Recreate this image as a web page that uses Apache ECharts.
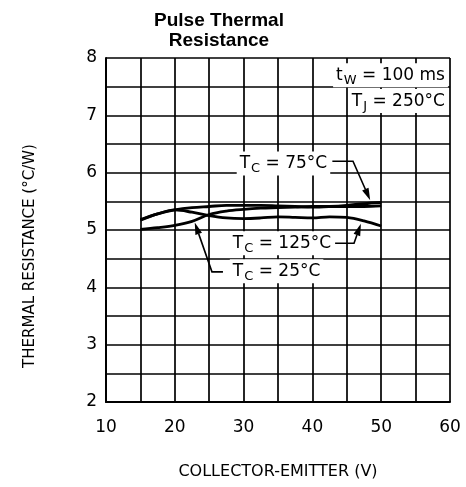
<!DOCTYPE html>
<html>
<head>
<meta charset="utf-8">
<script src="https://cdn.jsdelivr.net/npm/echarts@6/dist/echarts.min.js"></script>
<style>
  html, body { margin: 0; padding: 0; background: #fff; }
  #chart { width: 466px; height: 487px; }
</style>
</head>
<body>
<div id="chart"></div>
<script>
// ---- data ----
const volts  = [15, 17.5, 20, 22.5, 25, 27.5, 30, 32.5, 35, 37.5, 40, 42.5, 45, 47.5, 50];
const tc25   = [5.01, 5.04, 5.08, 5.15, 5.27, 5.33, 5.36, 5.38, 5.39, 5.40, 5.41, 5.41, 5.41, 5.41, 5.42];
const tc75   = [5.18, 5.28, 5.35, 5.39, 5.41, 5.43, 5.43, 5.43, 5.42, 5.41, 5.40, 5.41, 5.43, 5.46, 5.48];
const tc125  = [5.17, 5.28, 5.35, 5.31, 5.25, 5.21, 5.20, 5.21, 5.23, 5.22, 5.21, 5.23, 5.22, 5.16, 5.07];
const xTicks = [10, 20, 30, 40, 50, 60];
const yTicks = [2, 3, 4, 5, 6, 7, 8];

const FONT = '"DejaVu Sans", sans-serif';
const pairs = (ys) => volts.map((v, i) => [v, ys[i]]);

const chart = echarts.init(document.getElementById('chart'), null, { renderer: 'canvas' });

const lineSeries = (name, ys) => ({
  name, type: 'line', data: pairs(ys), smooth: 0.35, symbol: 'none',
  lineStyle: { color: '#000', width: 2.8 }, z: 5, silent: true
});

chart.setOption({
  animation: false,
  backgroundColor: '#fff',
  title: {
    text: 'Pulse Thermal\nResistance',
    left: 214, top: 6, textAlign: 'center',
    textStyle: { fontFamily: '"Liberation Sans", Arial, sans-serif', fontWeight: 'bold', fontSize: 19, lineHeight: 20, color: '#000' }
  },
  grid: { left: 106, right: 16, top: 58, bottom: 85, containLabel: false },
  xAxis: {
    type: 'value', min: 10, max: 60, interval: 5,
    name: 'COLLECTOR-EMITTER (V)', nameLocation: 'middle', nameGap: 62,
    nameTextStyle: { fontFamily: FONT, fontSize: 16, color: '#000' },
    axisLine: { show: true, lineStyle: { color: '#000', width: 2 } },
    axisTick: { show: false },
    axisLabel: { color: '#000', fontFamily: FONT, fontSize: 17, margin: 17,
      formatter: v => (xTicks.indexOf(v) >= 0 ? String(v) : '') },
    splitLine: { show: true, lineStyle: { color: '#000', width: 1.7 } }
  },
  yAxis: {
    type: 'value', min: 2, max: 8, interval: 0.5,
    name: 'THERMAL RESISTANCE (°C/W)', nameLocation: 'middle', nameGap: 68, nameRotate: 90,
    nameTextStyle: { fontFamily: FONT, fontSize: 15, color: '#000', padding: [0, 52, 0, 0] },
    axisLine: { show: true, lineStyle: { color: '#000', width: 2 } },
    axisTick: { show: false },
    axisLabel: { color: '#000', fontFamily: FONT, fontSize: 17, margin: 9,
      formatter: v => (yTicks.indexOf(v) >= 0 ? String(v) : '') },
    splitLine: { show: true, lineStyle: { color: '#000', width: 1.7 } }
  },
  series: [lineSeries('25', tc25), lineSeries('75', tc75), lineSeries('125', tc125)]
});

// ---- annotations, positioned in data coordinates ----
const P = (p) => chart.convertToPixel({ gridIndex: 0 }, p);
const rich = {
  m: { fontFamily: FONT, fontSize: 17, color: '#000' },
  s: { fontFamily: FONT, fontSize: 13, color: '#000', padding: [10, 0, 0, 1] }
};
function label(text, at, align) {
  const p = P(at);
  return {
    type: 'text', x: p[0], y: p[1], z: 20,
    style: {
      text, rich, fill: '#000', font: '17px ' + FONT,
      align: align || 'left', verticalAlign: 'middle',
      backgroundColor: '#fff', padding: [1, 3, 0, 3]
    }
  };
}
function arrow(pts) {
  const px = pts.map(P);
  const n = px.length, tip = px[n - 1], prev = px[n - 2];
  const dx = tip[0] - prev[0], dy = tip[1] - prev[1];
  const L = Math.hypot(dx, dy), ux = dx / L, uy = dy / L;
  const len = 12, w = 3.5;
  const base = [tip[0] - ux * len, tip[1] - uy * len];
  const line = px.slice(0, n - 1).concat([base]);
  return [
    { type: 'polyline', z: 21, shape: { points: line }, style: { stroke: '#000', lineWidth: 1.6, fill: null } },
    { type: 'polygon', z: 21, shape: { points: [tip, [base[0] - uy * w, base[1] + ux * w], [base[0] + uy * w, base[1] - ux * w]] },
      style: { fill: '#000' } }
  ];
}

const lbl75  = [29.0, 6.16];
const lbl125 = [28.0, 4.77];
const lbl25  = [28.0, 4.28];
const lblTw  = [59.7, 7.70];
const lblTj  = [59.7, 7.25];

chart.setOption({
  graphic: [
    label('{m|T}{s|C}{m| = 75°C}', lbl75),
    label('{m|T}{s|C}{m| = 125°C}', lbl125),
    label('{m|T}{s|C}{m| = 25°C}', lbl25),
    label('{m|t}{s|W}{m| = 100 ms}', lblTw, 'right'),
    label('{m|T}{s|J}{m| = 250°C}', lblTj, 'right'),
    ...arrow([[42.9, 6.20], [45.9, 6.20], [48.4, 5.52]]),
    ...arrow([[43.3, 4.77], [46.05, 4.77], [47.05, 5.11]]),
    ...arrow([[27.0, 4.27], [25.4, 4.27], [22.9, 5.13]])
  ]
});
</script>
</body>
</html>
